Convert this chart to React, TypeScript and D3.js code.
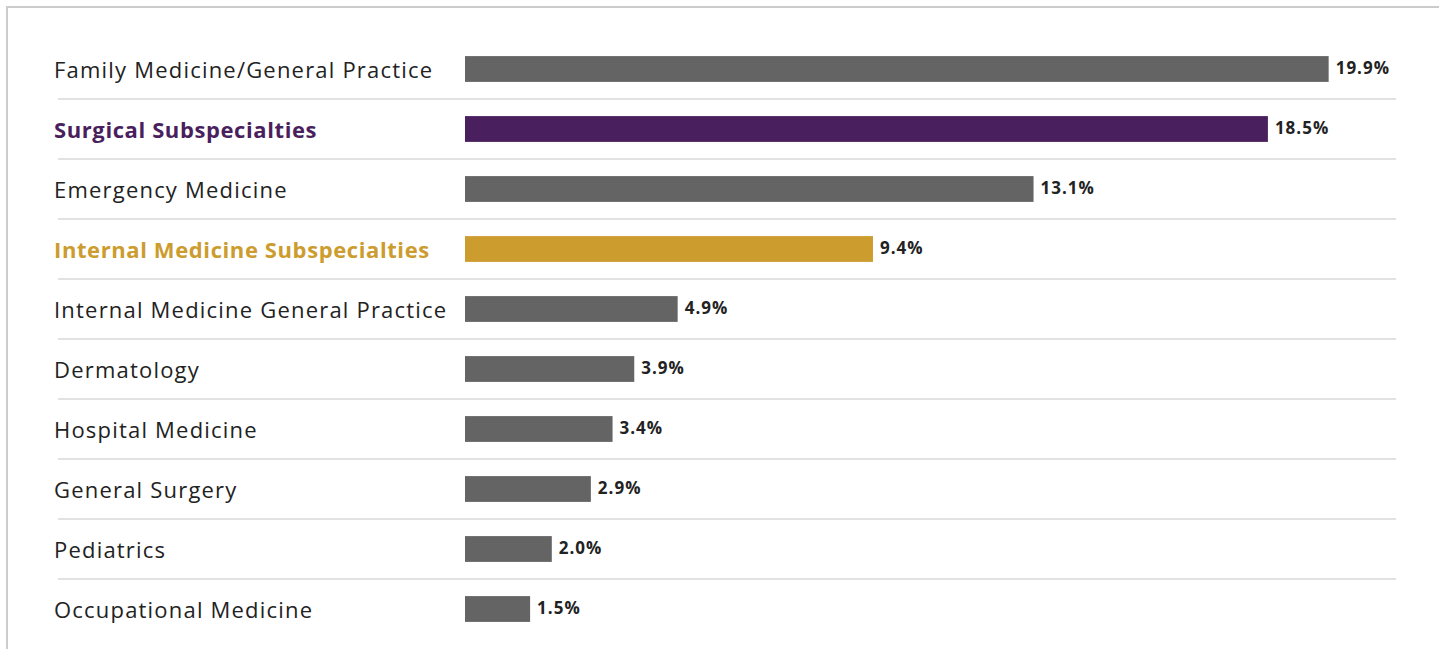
import React from "react";
import * as d3 from "d3";

const categories = [
  "Family Medicine/General Practice",
  "Surgical Subspecialties",
  "Emergency Medicine",
  "Internal Medicine Subspecialties",
  "Internal Medicine General Practice",
  "Dermatology",
  "Hospital Medicine",
  "General Surgery",
  "Pediatrics",
  "Occupational Medicine",
];
const values = [19.9, 18.5, 13.1, 9.4, 4.9, 3.9, 3.4, 2.9, 2.0, 1.5];
const highlight: Record<string, string> = {
  "Surgical Subspecialties": "#4a1f5e",
  "Internal Medicine Subspecialties": "#cc9c2e",
};

const W = 1439;
const H = 649;

export default function App() {
  const y = d3
    .scaleBand<string>()
    .domain(categories)
    .range([39, 639])
    .paddingInner(0.57)
    .paddingOuter(0.285);
  const x = d3.scaleLinear().domain([0, 20]).range([465, 1333]);
  const step = y.step();
  const font = "'Open Sans', sans-serif";

  return (
    <svg
      width={W}
      height={H}
      style={{ position: "absolute", left: 0, top: 0, background: "#fff" }}
    >
      <rect x={7} y={7} width={W} height={H} fill="#fff" stroke="#cccccc" strokeWidth={2} />
      {categories.slice(0, -1).map((c, i) => {
        const yy = (y(c) as number) + y.bandwidth() / 2 + step / 2;
        return (
          <line key={"s" + i} x1={58} x2={1396} y1={yy} y2={yy} stroke="#d9d9d9" strokeWidth={1.5} />
        );
      })}
      {categories.map((c, i) => {
        const by = y(c) as number;
        const cy = by + y.bandwidth() / 2;
        const col = highlight[c] || "#646464";
        return (
          <g key={c}>
            <text
              x={54}
              y={cy + 1}
              dy="0.35em"
              fontFamily={font}
              fontSize={22}
              letterSpacing={highlight[c] ? 0.6 : 1.2}
              fontWeight={highlight[c] ? 700 : 400}
              fill={highlight[c] || "#222"}
            >
              {c}
            </text>
            <rect x={x(0)} y={by} width={x(values[i]) - x(0)} height={y.bandwidth()} fill={col} />
            <text
              x={x(values[i]) + 7}
              y={cy - 1}
              dy="0.35em"
              fontFamily={font}
              fontSize={17}
              letterSpacing={1}
              fontWeight={700}
              fill="#222"
            >
              {values[i].toFixed(1)}%
            </text>
          </g>
        );
      })}
    </svg>
  );
}
